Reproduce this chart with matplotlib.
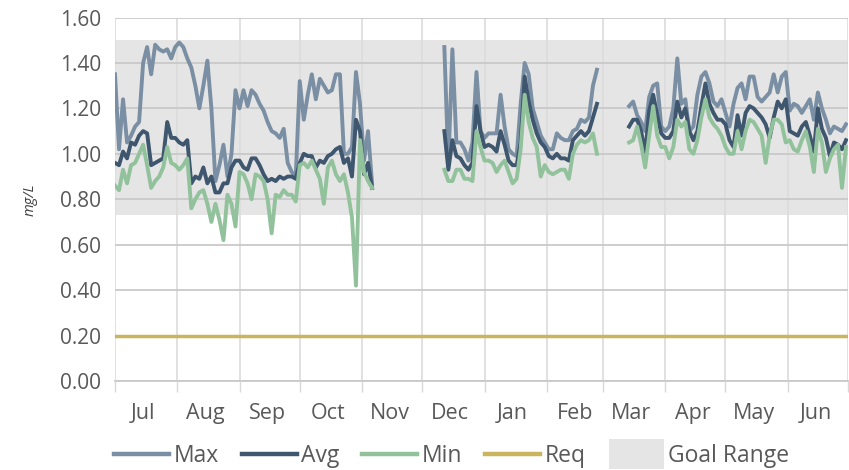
import numpy as np
import pandas as pd
import matplotlib
matplotlib.use("Agg")
import matplotlib.pyplot as plt
from matplotlib.patches import Rectangle, Patch
from matplotlib.lines import Line2D
from matplotlib.legend_handler import HandlerPatch

# ---------------- data ----------------
seg_starts = ["2022-07-01", "2022-12-12", "2023-03-14"]
step_days = 2

max_s1 = [1.35, 1.02, 1.24, 1.05, 1.08, 1.12, 1.14, 1.40, 1.47, 1.35,
          1.48, 1.46, 1.45, 1.46, 1.42, 1.47, 1.49, 1.47, 1.42, 1.38,
          1.30, 1.20, 1.30, 1.41, 1.20, 0.88, 0.95, 1.04, 0.90, 1.00,
          1.28, 1.20, 1.28, 1.21, 1.28, 1.26, 1.22, 1.19, 1.14, 1.10,
          1.09, 1.07, 1.11, 0.96, 0.92, 0.90, 1.32, 1.15, 1.26, 1.35,
          1.24, 1.33, 1.30, 1.27, 1.28, 1.35, 1.35, 1.00, 1.00, 1.03,
          1.36, 1.22, 0.97, 1.10, 0.87]
avg_s1 = [0.96, 0.95, 1.01, 0.98, 1.05, 1.04, 1.08, 1.10, 1.09, 0.95,
          0.96, 0.97, 0.98, 1.14, 1.07, 1.07, 1.05, 1.04, 1.06, 0.87,
          0.90, 0.89, 0.94, 0.87, 0.90, 0.83, 0.83, 0.87, 0.87, 0.94,
          0.97, 0.97, 0.94, 0.93, 0.98, 0.98, 0.95, 0.91, 0.88, 0.89,
          0.88, 0.90, 0.89, 0.90, 0.90, 0.89, 0.96, 1.00, 0.99, 0.99,
          0.94, 0.97, 0.96, 0.99, 1.00, 1.02, 1.03, 0.96, 0.98, 0.90,
          1.15, 1.10, 0.91, 0.96, 0.85]
min_s1 = [0.86, 0.84, 0.93, 0.87, 0.95, 0.96, 1.00, 1.04, 0.95, 0.85,
          0.88, 0.90, 0.94, 1.03, 0.96, 0.95, 0.93, 0.95, 0.98, 0.76,
          0.80, 0.83, 0.84, 0.78, 0.70, 0.78, 0.71, 0.62, 0.82, 0.78,
          0.68, 0.92, 0.91, 0.87, 0.80, 0.91, 0.90, 0.88, 0.80, 0.65,
          0.82, 0.81, 0.84, 0.82, 0.82, 0.79, 0.95, 0.96, 0.94, 0.97,
          0.93, 0.89, 0.78, 0.94, 0.97, 0.91, 0.88, 0.91, 0.83, 0.72,
          0.42, 1.06, 0.92, 0.88, 0.85]

max_s2 = [1.47, 0.95, 1.46, 1.05, 1.05, 1.02, 0.97, 1.05, 1.36, 1.10,
          1.07, 1.09, 1.09, 1.09, 1.26, 1.12, 1.02, 1.00, 0.99, 1.22,
          1.40, 1.35, 1.20, 1.14, 1.08, 1.05, 1.02, 1.02, 1.09, 1.07,
          1.06, 1.06, 1.10, 1.11, 1.15, 1.14, 1.16, 1.30, 1.37]
avg_s2 = [1.10, 0.93, 1.06, 0.99, 0.98, 0.95, 0.93, 0.96, 1.21, 1.10,
          1.03, 1.04, 1.03, 1.01, 1.10, 1.04, 0.97, 0.95, 0.95, 1.05,
          1.34, 1.23, 1.15, 1.09, 1.05, 1.03, 0.99, 0.98, 1.00, 0.98,
          0.98, 0.97, 1.06, 1.08, 1.10, 1.08, 1.10, 1.16, 1.22]
min_s2 = [0.93, 0.88, 0.88, 0.93, 0.93, 0.89, 0.89, 0.88, 1.10, 1.03,
          0.97, 0.97, 0.96, 0.92, 0.95, 0.97, 0.92, 0.87, 0.89, 1.02,
          1.26, 1.14, 1.07, 1.03, 0.90, 0.95, 0.92, 0.91, 0.92, 0.93,
          0.93, 0.89, 1.00, 1.04, 1.06, 1.05, 1.06, 1.09, 1.00]

max_s3 = [1.21, 1.23, 1.17, 1.14, 1.10, 1.25, 1.30, 1.31, 1.12, 1.10,
          1.12, 1.20, 1.42, 1.22, 1.24, 1.10, 1.12, 1.26, 1.34, 1.36,
          1.31, 1.23, 1.21, 1.24, 1.18, 1.12, 1.22, 1.29, 1.31, 1.24,
          1.34, 1.34, 1.25, 1.23, 1.25, 1.27, 1.35, 1.27, 1.34, 1.36,
          1.19, 1.22, 1.21, 1.18, 1.21, 1.24, 1.15, 1.27, 1.20, 1.15,
          1.09, 1.12, 1.11, 1.10, 1.13]
avg_s3 = [1.12, 1.15, 1.15, 1.10, 1.00, 1.19, 1.26, 1.17, 1.09, 1.07,
          1.07, 1.10, 1.23, 1.16, 1.20, 1.10, 1.06, 1.10, 1.21, 1.31,
          1.22, 1.18, 1.15, 1.15, 1.13, 1.06, 1.03, 1.17, 1.08, 1.18,
          1.21, 1.20, 1.18, 1.16, 1.13, 1.07, 1.16, 1.23, 1.20, 1.24,
          1.10, 1.09, 1.08, 1.12, 1.14, 1.08, 1.01, 1.20, 1.11, 1.07,
          0.99, 1.05, 1.04, 1.02, 1.06]
min_s3 = [1.05, 1.06, 1.12, 1.04, 0.94, 1.08, 1.21, 1.08, 1.03, 1.03,
          0.98, 1.03, 1.15, 1.12, 1.14, 1.02, 1.00, 1.06, 1.16, 1.24,
          1.16, 1.13, 1.11, 1.08, 1.03, 1.00, 1.00, 1.10, 1.02, 1.10,
          1.15, 1.14, 1.11, 1.08, 0.96, 1.08, 1.15, 1.15, 1.13, 1.05,
          1.06, 1.02, 1.01, 1.06, 1.10, 1.03, 0.92, 1.11, 1.05, 0.92,
          0.98, 1.02, 1.04, 0.85, 1.03]

req_value = 0.20
goal_low, goal_high = 0.73, 1.50
month_labels = ["Jul", "Aug", "Sep", "Oct", "Nov", "Dec",
                "Jan", "Feb", "Mar", "Apr", "May", "Jun"]
y_ticks = [0.0, 0.2, 0.4, 0.6, 0.8, 1.0, 1.2, 1.4, 1.6]
x_start, x_end = "2022-07-01", "2023-07-01"

# ------------- build series with gaps -------------
def build(segs):
    parts = []
    for start, vals in zip(seg_starts, segs):
        idx = pd.date_range(start, periods=len(vals), freq=f"{step_days}D")
        s = pd.Series(vals, index=idx, dtype=float)
        if parts:
            gap = parts[-1].index[-1] + pd.Timedelta(days=1)
            parts.append(pd.Series([np.nan], index=[gap]))
        parts.append(s)
    return pd.concat(parts)

s_max = build([max_s1, max_s2, max_s3])
s_avg = build([avg_s1, avg_s2, avg_s3])
s_min = build([min_s1, min_s2, min_s3])

# ---------------- style ----------------
plt.rcParams['font.family'] = ['Open Sans', 'DejaVu Sans']
c_max = "#7a8fa3"
c_avg = "#3e566e"
c_min = "#92c29c"
c_req = "#cbb45e"
c_goal = "#e5e5e5"
c_text = "#595959"

fig = plt.figure(figsize=(8.49, 4.70), dpi=100)
ax = fig.add_axes([115/849, 1-381/470, (848-115)/849, (381-17.5)/470])

ax.axhspan(goal_low, goal_high, color=c_goal, zorder=0, lw=0)
lw = 2.8
ax.plot(s_max.index, s_max.values, color=c_max, lw=lw, zorder=3, solid_joinstyle='round')
ax.plot(s_avg.index, s_avg.values, color=c_avg, lw=lw, zorder=3, solid_joinstyle='round')
ax.plot(s_min.index, s_min.values, color=c_min, lw=lw, zorder=3, solid_joinstyle='round')
ax.axhline(req_value, color=c_req, lw=2.5, zorder=3)

ax.set_xlim(pd.Timestamp(x_start), pd.Timestamp(x_end))
ax.set_ylim(0, 1.6)

# month boundaries (major) and mid-month labels (minor)
month_starts = pd.date_range(x_start, x_end, freq="MS")
mid_months = month_starts[:-1] + pd.Timedelta(days=14)
ax.set_xticks(month_starts)
ax.set_xticklabels([])
ax.set_xticks(mid_months, minor=True)
ax.set_xticklabels(month_labels, minor=True)
ax.tick_params(axis='x', which='major', length=8, color="#d9d9d9", width=1)
ax.tick_params(axis='x', which='minor', length=0, pad=16, labelsize=15.5, labelcolor=c_text)

ax.set_yticks(y_ticks)
ax.set_yticklabels([f"{v:.2f}" for v in y_ticks])
ax.tick_params(axis='y', length=0, pad=10, labelsize=15, labelcolor=c_text)

ax.grid(axis='y', color="#c9c9c9", lw=1.3, zorder=1)
ax.grid(axis='x', which='major', color="#dcdcdc", lw=1.2, zorder=1)
ax.set_axisbelow(False)
for g in ax.get_xgridlines() + ax.get_ygridlines():
    g.set_zorder(1)

for sp in ["top", "right", "left"]:
    ax.spines[sp].set_visible(False)
ax.spines["bottom"].set_color("#c9c9c9")
ax.spines["bottom"].set_linewidth(1.3)

ax.set_ylabel("mg/L", fontsize=10.5, style='italic', color="#404040", labelpad=16)

# legend
class BigPatch(HandlerPatch):
    def create_artists(self, legend, orig_handle, xdescent, ydescent, width, height, fontsize, trans):
        r = Rectangle((-xdescent, -ydescent - height * 0.45), width, height * 1.9,
                      facecolor=orig_handle.get_facecolor(), edgecolor='none', transform=trans)
        return [r]

handles = [Line2D([], [], color=c_max, lw=3.2),
           Line2D([], [], color=c_avg, lw=3.2),
           Line2D([], [], color=c_min, lw=3.2),
           Line2D([], [], color=c_req, lw=3.2),
           Patch(facecolor=c_goal)]
labels = ["Max", "Avg", "Min", "Req", "Goal Range"]
leg = fig.legend(handles, labels, loc="center", bbox_to_anchor=(0.532, 1-456/470),
                 ncol=5, frameon=False, fontsize=16.5, handlelength=2.4,
                 handletextpad=0.2, columnspacing=1.0,
                 handler_map={Patch: BigPatch()})
for t in leg.get_texts():
    t.set_color(c_text)

fig.savefig("out.png", dpi=100, facecolor="white")
